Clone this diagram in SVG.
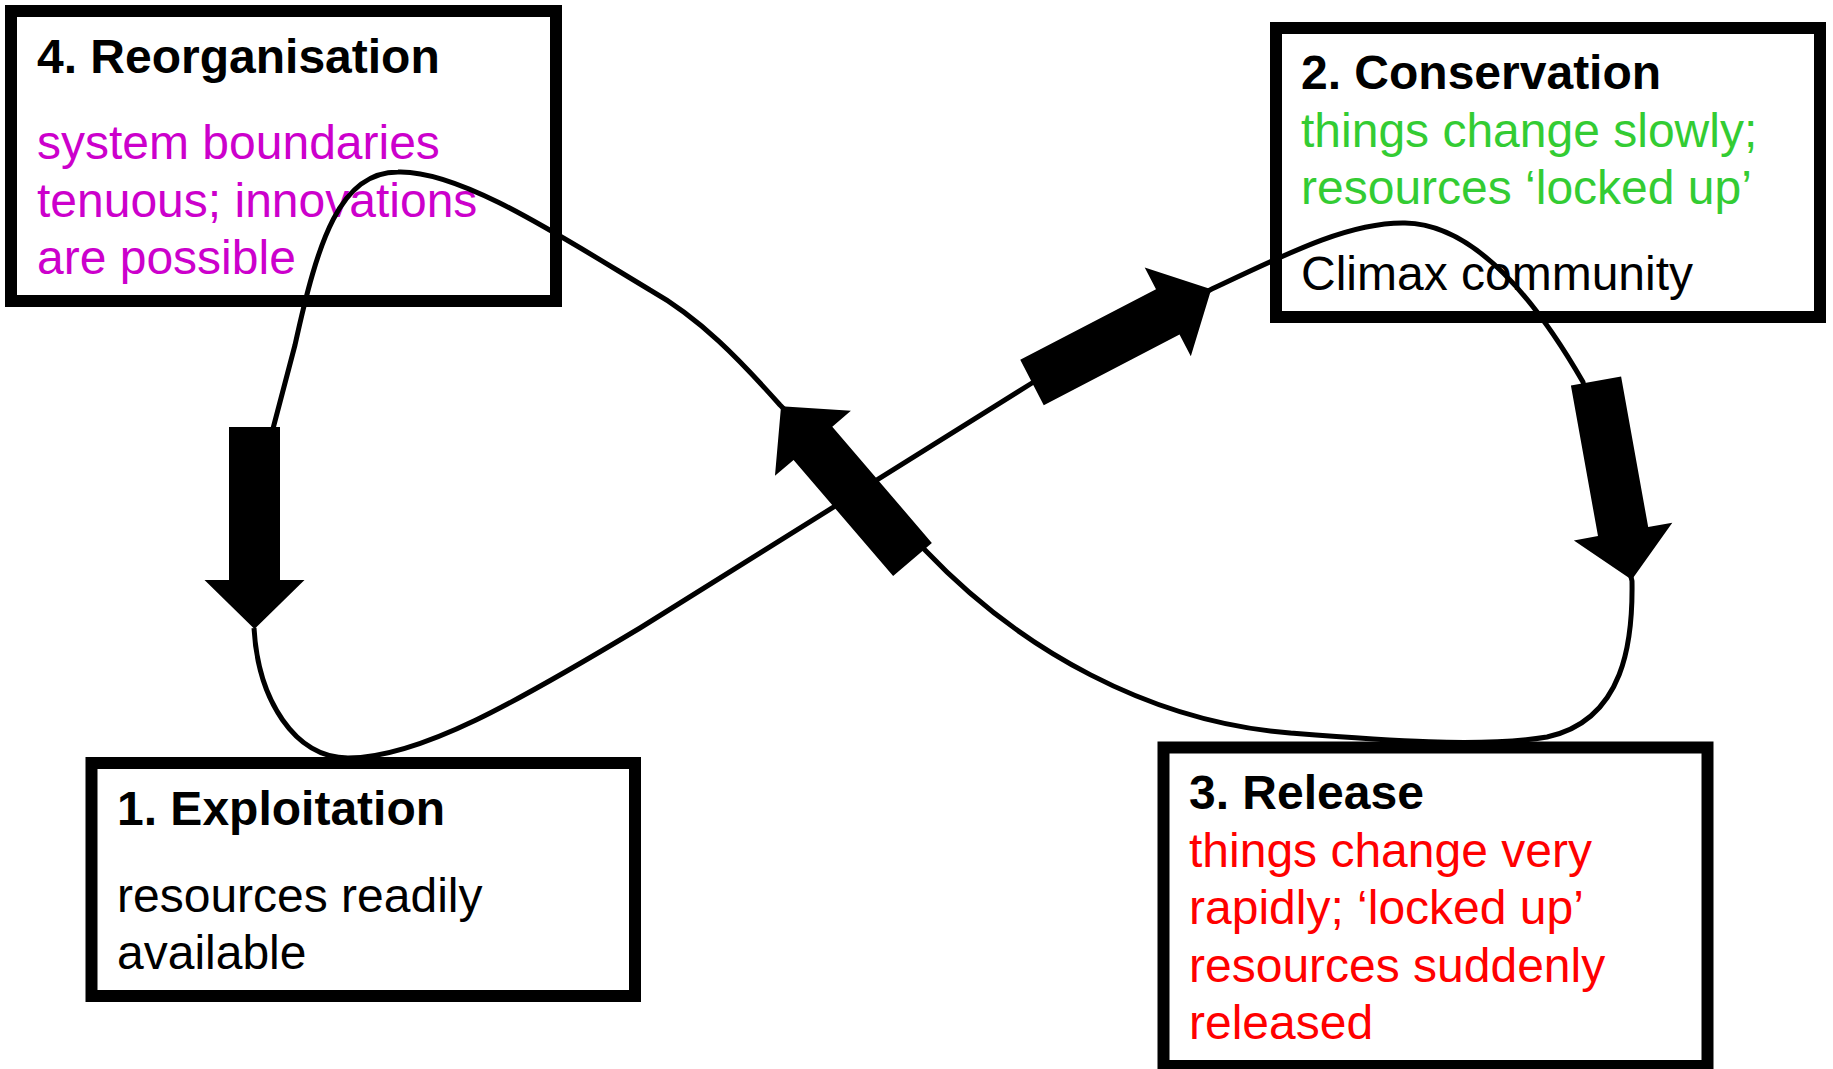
<svg xmlns="http://www.w3.org/2000/svg" width="1833" height="1069" viewBox="0 0 1833 1069">
<style>
.box{fill:#fff;stroke:#000;stroke-width:12}
text{font-family:"Liberation Sans",Arial,sans-serif;font-size:48px}
.t{font-weight:bold;fill:#000}
.k{fill:#000}
.p{fill:#CC00CC}
.g{fill:#33CC33}
.r{fill:#FF0000}
.curve{fill:none;stroke:#000;stroke-width:5;stroke-linejoin:round}
</style>
<defs>
<path id="arw" d="M0,-25.5 L153,-25.5 L153,-50 L202,0 L153,50 L153,25.5 L0,25.5 Z" fill="#000"/>
</defs>
<rect width="1833" height="1069" fill="#fff"/>
<g id="node-reorganisation">
<rect class="box" x="11" y="11" width="545" height="290"/>
<text class="t" x="37" y="73">4. Reorganisation</text>
<text class="p" x="37" y="159">system boundaries</text>
<text class="p" x="37" y="217">tenuous; innovations</text>
<text class="p" x="37" y="274">are possible</text>
</g>
<g id="node-conservation">
<rect class="box" x="1276" y="28" width="544" height="289"/>
<text class="t" x="1301" y="89">2. Conservation</text>
<text class="g" x="1301" y="147">things change slowly;</text>
<text class="g" x="1301" y="204">resources ‘locked up’</text>
<text class="k" x="1301" y="290">Climax community</text>
</g>
<g id="node-exploitation">
<rect class="box" x="91.5" y="763" width="543.5" height="233"/>
<text class="t" x="117" y="825">1. Exploitation</text>
<text class="k" x="117" y="912">resources readily</text>
<text class="k" x="117" y="969">available</text>
</g>
<g id="node-release">
<rect class="box" x="1163.5" y="747.5" width="544" height="318.5"/>
<text class="t" x="1189" y="809">3. Release</text>
<text class="r" x="1189" y="867">things change very</text>
<text class="r" x="1189" y="924">rapidly; ‘locked up’</text>
<text class="r" x="1189" y="982">resources suddenly</text>
<text class="r" x="1189" y="1039">released</text>
</g>
<g id="connectors">
<path class="curve" d="M254,628 C258,700 295,758 348,758 C420,758 520,700 640,628 L1032,383 L1210,290 C1290,252 1350,222 1405,223 C1470,224 1530,290 1583,382 L1632,581 C1633,640 1625,720 1547,737 C1480,748 1380,740 1290,733 C1150,722 1020,650 925,550 L780,405 C740,360 700,318 650,290 C560,236 460,170 398,172 C340,172 318,240 295,345 L270,440"/>
<use href="#arw" transform="translate(254.5,427) rotate(90)"/>
<use href="#arw" transform="translate(1032,382.5) rotate(-27.46)"/>
<use href="#arw" transform="translate(1596,381) rotate(79.8)"/>
<use href="#arw" transform="translate(912.5,559.5) rotate(229.4)"/>
</g>
</svg>
